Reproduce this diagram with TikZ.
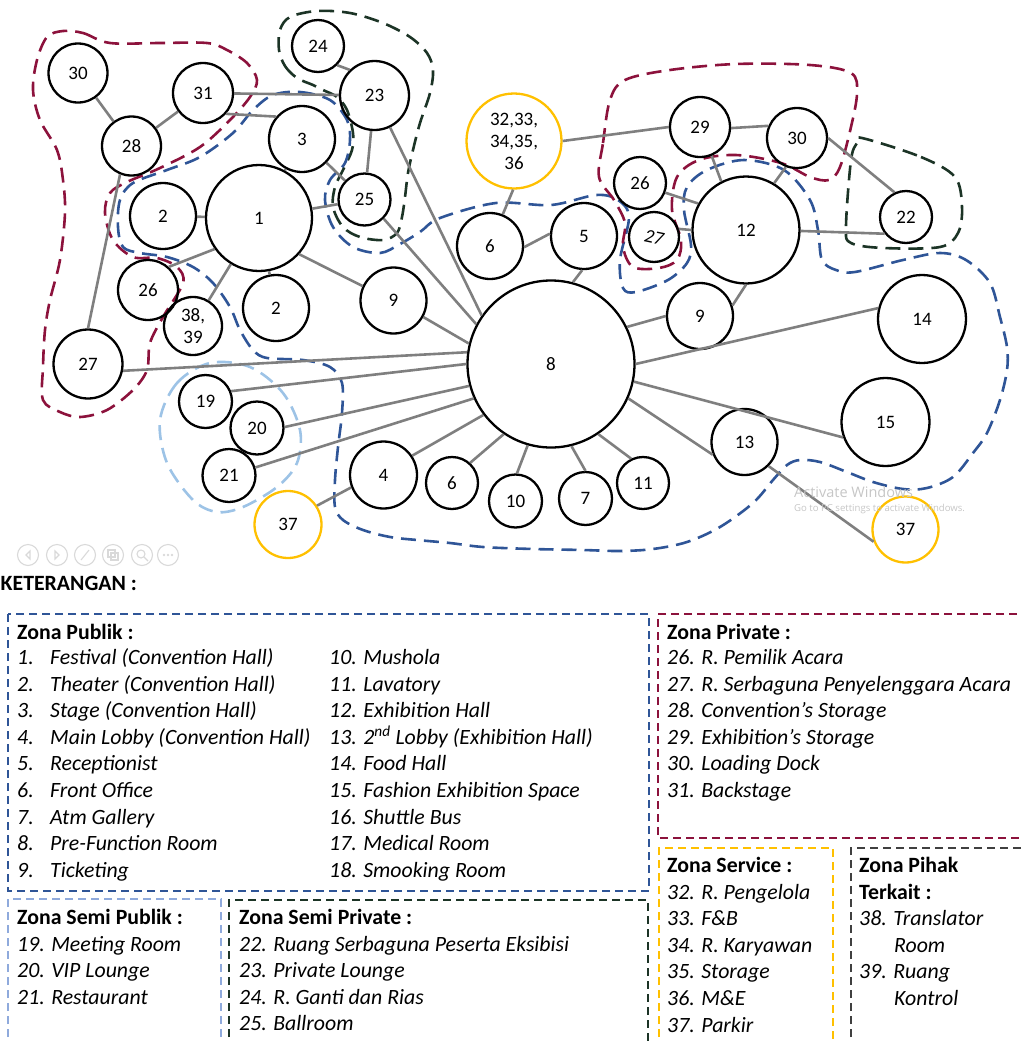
\documentclass[tikz,border=0pt]{standalone}
\usepackage{fontspec}
\setmainfont{Carlito}
\newfontfamily\wmfont{Open Sans}
\definecolor{zblue}{RGB}{47,85,151}
\definecolor{zred}{RGB}{140,18,60}
\definecolor{zgreen}{RGB}{28,52,38}
\definecolor{zlblue}{RGB}{157,195,230}
\definecolor{zlblue2}{RGB}{143,170,220}
\definecolor{zyel}{RGB}{255,192,0}
\definecolor{edgegray}{RGB}{127,127,127}
\definecolor{zgray}{RGB}{64,64,64}
\tikzset{
  rn/.style={circle, draw=black, line width=2.3pt, inner sep=0pt, align=center, font=\fontsize{19}{22}\selectfont},
  yn/.style={rn, draw=zyel},
  edge/.style={draw=edgegray, line width=2.6pt},
  zone/.style={line width=2.6pt, dash pattern=on 15pt off 8pt},
  legbox/.style={line width=2.4pt, dash pattern=on 8pt off 5pt},
  legtxt/.style={anchor=base west, inner sep=0pt, font=\fontsize{21.8}{26}\selectfont\itshape},
  leghead/.style={anchor=base west, inner sep=0pt, font=\fontsize{21.8}{26}\selectfont\bfseries},
  icon/.style={draw=gray!30, line width=1.1pt},
}
\begin{document}
\begin{tikzpicture}[x=1pt,y=-1pt]
\useasboundingbox (0,0) rectangle (1021,1042);

% ---------- zones ----------
\draw[zone, zred] plot[smooth cycle, tension=0.55] coordinates {(63,31) (83,33) (110,43) (160,43) (207,43) (227,50) (247,63) (257,80) (250,97) (230,120) (200,147) (160,168) (127,182) (110,193) (105,213) (113,240) (133,257) (157,258) (177,267) (183,283) (163,317) (150,343) (147,370) (133,390) (107,410) (80,417) (60,412) (43,400) (43,367) (45,330) (50,300) (60,260) (65,213) (63,180) (57,150) (40,120) (33,90) (37,60) (47,37)};
\draw[zone, zgreen] plot[smooth cycle, tension=0.55] coordinates {(279,50) (285,66) (297,78) (313,85) (323,90) (337,97) (347,110) (353,133) (352,150) (343,170) (335,187) (333,207) (343,227) (360,237) (383,240) (397,233) (402,217) (405,197) (408,173) (413,150) (420,123) (430,93) (433,70) (427,53) (410,37) (383,23) (350,13) (317,11) (290,17) (280,30)};
\draw[zone, zblue] plot[smooth cycle, tension=0.55] coordinates {(273,95) (300,92) (330,100) (347,120) (350,140) (345,163) (330,180) (325,200) (333,227) (353,247) (380,253) (400,244) (420,232) (440,218) (496,203) (551,205) (596,195) (618,200) (629,217) (620,260) (623,288) (636,292) (668,280) (687,263) (691,245) (684,210) (687,187) (707,170) (744,160) (784,170) (810,200) (818,230) (822,260) (836,270) (855,272) (903,260) (940,253) (966,260) (990,283) (1000,317) (1007,347) (1007,370) (1000,400) (987,433) (973,453) (953,477) (927,488) (903,489) (873,482) (847,472) (820,462) (800,460) (787,465) (773,480) (753,503) (720,527) (687,542) (653,549) (620,551) (583,550) (533,549) (483,547) (450,543) (417,540) (390,537) (363,530) (343,520) (335,507) (335,480) (338,447) (342,413) (342,383) (330,367) (303,360) (267,358) (253,350) (240,330) (230,307) (213,283) (193,267) (167,257) (140,253) (123,247) (118,227) (120,200) (133,183) (167,170) (200,157) (233,133) (253,110)};
\draw[zone, zred] plot[smooth cycle, tension=0.55] coordinates {(599,177) (603,143) (610,100) (625,80) (670,70) (736,64) (810,65) (851,73) (857,93) (851,127) (840,167) (829,180) (810,177) (781,163) (736,155) (699,160) (677,177) (672,210) (681,240) (677,260) (659,268) (633,267) (623,247) (625,223) (614,200)};
\draw[zone, zgreen] plot[smooth cycle, tension=0.55] coordinates {(862,138) (921,157) (955,177) (962,207) (958,233) (940,247) (884,248) (851,243) (846,227) (851,160) (857,143)};
\draw[zone, zlblue] plot[smooth cycle, tension=0.55] coordinates {(160,420) (177,383) (210,363) (250,367) (283,393) (300,430) (297,463) (277,487) (243,507) (217,512) (193,500) (167,463)};

% ---------- nodes ----------
\node[rn, minimum size=59] (n30a) at (78,73) {30};
\node[rn, minimum size=60] (n31) at (203,93) {31};
\node[rn, minimum size=59] (n28) at (131.5,146) {28};
\node[rn, minimum size=52] (n24) at (318,46) {24};
\node[rn, minimum size=69] (n23) at (374.5,95.5) {23};
\node[rn, minimum size=66] (n3) at (302,139) {3};
\node[rn, minimum size=52] (n25) at (364.5,199.5) {25};
\node[rn, minimum size=66] (n2a) at (163,216) {2};
\node[rn, minimum size=106] (n1) at (259,218) {1};
\node[rn, minimum size=60] (n26a) at (148,290) {26};
\node[rn, minimum size=58] (n38) at (193,326) {38,\\39};
\node[rn, minimum size=66] (n2b) at (276,308) {2};
\node[rn, minimum size=66] (n9a) at (393.5,300.5) {9};
\node[rn, minimum size=69] (n27a) at (88,364) {27};
\node[rn, minimum size=53] (n19) at (205.5,401.5) {19};
\node[rn, minimum size=53] (n20) at (257,428) {20};
\node[rn, minimum size=53] (n21) at (229,475.5) {21};
\node[yn, minimum size=67] (n37a) at (288,524.5) {37};
\node[rn, minimum size=67] (n4) at (383.5,475) {4};
\node[rn, minimum size=52] (n6b) at (452,483) {6};
\node[rn, minimum size=53] (n10) at (515.5,501) {10};
\node[rn, minimum size=53] (n7) at (585.5,498.5) {7};
\node[rn, minimum size=52] (n11) at (643,483) {11};
\node[rn, minimum size=167] (n8) at (551,364) {8};
\node[yn, minimum size=95] (n32) at (514,141) {32,33,\\34,35,\\36};
\node[rn, minimum size=66] (n6a) at (490,246) {6};
\node[rn, minimum size=66] (n5) at (584,236) {5};
\node[rn, minimum size=52] (n26b) at (640,183) {26};
\node[rn, minimum size=50] (n27b) at (654,237) {\rotatebox{-12}{\itshape 27}};
\node[rn, minimum size=107] (n12) at (746,230) {12};
\node[rn, minimum size=60] (n29) at (700,127) {29};
\node[rn, minimum size=60] (n30b) at (797,138) {30};
\node[rn, minimum size=52] (n22) at (906,217) {22};
\node[rn, minimum size=66] (n9b) at (700,316) {9};
\node[rn, minimum size=88] (n14) at (922,319) {14};
\node[rn, minimum size=88] (n15) at (885.5,422) {15};
\node[rn, minimum size=66] (n13) at (744.5,442) {13};
\node[yn, minimum size=66] (n37b) at (905.5,529.5) {37};

% ---------- edges ----------
\draw[edge] (n30a) -- (n28);
\draw[edge] (n28) -- (n31);
\draw[edge] (n28.248) -- (n27a.90);
\draw[edge] (n31) -- (n23);
\draw[edge] (n31.-42) -- (n3.139);
\draw[edge] (n24.-45) -- (n23.134);
\draw[edge] (n23) -- (n25);
\draw[edge] (n23.-64) -- (n8.145);
\draw[edge] (n3) -- (n25);
\draw[edge] (n3) -- (n1);
\draw[edge] (n2a) -- (n1);
\draw[edge] (n1) -- (n25);
\draw[edge] (n1.215) -- (n26a.48);
\draw[edge] (n1) -- (n38);
\draw[edge] (n1) -- (n2b);
\draw[edge] (n1.-42) -- (n9a.155);
\draw[edge] (n9a.-29) -- (n8.166);
\draw[edge] (n25.-45) -- (n8.152);
\draw[edge] (n27a.-11) -- (n8.172);
\draw[edge] (n19.22) -- (n8.180);
\draw[edge] (n20.2) -- (n8.195);
\draw[edge] (n21.17) -- (n8.204);
\draw[edge] (n4.34) -- (n8.217);
\draw[edge] (n4.201) -- (n37a.33);
\draw[edge] (n6b.48) -- (n8.236);
\draw[edge] (n10.87) -- (n8.254);
\draw[edge] (n7.90) -- (n8.284);
\draw[edge] (n11.116) -- (n8.304);
\draw[edge] (n5.267) -- (n8.75);
\draw[edge] (n6a.-2) -- (n5.176);
\draw[edge] (n6a.68) -- (n32.-91);
\draw[edge] (n32.0) -- (n29.180);
\draw[edge] (n29.-2) -- (n30b.157);
\draw[edge] (n29.-68) -- (n12.117);
\draw[edge] (n30b.249) -- (n12.59);
\draw[edge] (n30b.0) -- (n22.115);
\draw[edge] (n26b.-21) -- (n12.151);
\draw[edge] (n27b.18) -- (n12.180);
\draw[edge] (n12.-1) -- (n22.218);
\draw[edge] (n9b.18) -- (n12.270);
\draw[edge] (n9b.180) -- (n8.26);
\draw[edge] (n8.0) -- (n14.166);
\draw[edge] (n8.-12) -- (n15.200);
\draw[edge] (n8.-24) -- (n13.202);
\draw[edge] (n13.-45) -- (n37b.201);

% ---------- watermark & slideshow controls ----------
\node[anchor=west, inner sep=0pt, text=gray!45, font=\wmfont\fontsize{14.5}{16}\selectfont] (wm1) at (794,492) {Activate Windows};
\node[anchor=west, inner sep=0pt, text=gray!45, font=\wmfont\fontsize{9.6}{11}\selectfont] (wm2) at (794,509) {Go to PC settings to activate Windows.};
\foreach \cx [count=\k] in {28,57,85,113,142,168} {
  \draw[icon] (\cx,555) circle (10.5);
}
\draw[icon] (30,551) -- (26,555) -- (30,559) -- cycle;
\draw[icon] (55,551) -- (59,555) -- (55,559) -- cycle;
\draw[icon] (81,560) -- (89,550);
\draw[icon] (108,550) rectangle (115,557);
\draw[icon] (111,553) rectangle (118,560);
\draw[icon] (141,554) circle (4);
\draw[icon] (144,557) -- (148,561);
\foreach \dx in {-4,0,4} { \fill[gray!30] (168+\dx,555) circle (1.3); }

% ---------- legend ----------
\node[leghead] (ket) at (0.5,590.5) {KETERANGAN :};

\draw[legbox, zblue] (8,614) rectangle (649,891);
\draw[legbox, zred] (1030,614) -- (658,614) -- (658,838) -- (1030,838);
\draw[legbox, zyel] (659,1050) -- (659,848) -- (833,848) -- (833,1050);
\draw[legbox, zgray] (851,1050) -- (851,848) -- (1030,848);
\draw[legbox, zlblue2] (8,1050) -- (8,899) -- (221,899) -- (221,1050);
\draw[legbox, zgreen] (229,1050) -- (229,900) -- (648,900) -- (648,1050);

% Zona Publik
\node[leghead] (hpub) at (17,639.5) {Zona Publik :};
\foreach \n/\t [count=\k] in {1./{Festival (Convention Hall)}, 2./{Theater (Convention Hall)}, 3./{Stage (Convention Hall)}, 4./{Main Lobby (Convention Hall)}, 5./{Receptionist}, 6./{Front Office}, 7./{Atm Gallery}, 8./{Pre-Function Room}, 9./{Ticketing}} {
  \node[legtxt] (pubn\k) at (17,{664.5+26.6*(\k-1)}) {\n};
  \node[legtxt] (pubt\k) at (50,{664.5+26.6*(\k-1)}) {\t};
}
\foreach \t [count=\k] in {{10. Mushola}, {11. Lavatory}, {12. Exhibition Hall}, {13. 2\textsuperscript{nd} Lobby (Exhibition Hall)}, {14. Food Hall}, {15. Fashion Exhibition Space}, {16. Shuttle Bus}, {17. Medical Room}, {18. Smooking Room}} {
  \node[legtxt] (pubc\k) at (329,{664.5+26.6*(\k-1)}) {\t};
}

% Zona Private
\node[leghead] (hpri) at (667,639.5) {Zona Private :};
\foreach \t [count=\k] in {{26. R. Pemilik Acara}, {27. R. Serbaguna Penyelenggara Acara}, {28. Convention’s Storage}, {29. Exhibition’s Storage}, {30. Loading Dock}, {31. Backstage}} {
  \node[legtxt] (pri\k) at (667,{664.5+26.6*(\k-1)}) {\t};
}

% Zona Service
\node[leghead] (hser) at (667,872.5) {Zona Service :};
\foreach \t [count=\k] in {{32. R. Pengelola}, {33. F\&B}, {34. R. Karyawan}, {35. Storage}, {36. M\&E}, {37. Parkir}} {
  \node[legtxt] (ser\k) at (667,{899.1+26.6*(\k-1)}) {\t};
}

% Zona Pihak Terkait
\node[leghead] (hpih1) at (859,872.5) {Zona Pihak};
\node[leghead] (hpih2) at (859,899.1) {Terkait :};
\node[legtxt] (pih1) at (859,925.7) {38. Translator};
\node[legtxt] (pih2) at (894,952.3) {Room};
\node[legtxt] (pih3) at (859,978.9) {39. Ruang};
\node[legtxt] (pih4) at (894,1005.5) {Kontrol};

% Zona Semi Publik
\node[leghead] (hsp) at (17,924.5) {Zona Semi Publik :};
\foreach \t [count=\k] in {{19. Meeting Room}, {20. VIP Lounge}, {21. Restaurant}} {
  \node[legtxt] (sp\k) at (17,{951.1+26.6*(\k-1)}) {\t};
}

% Zona Semi Private
\node[leghead] (hspr) at (239,924.5) {Zona Semi Private :};
\foreach \t [count=\k] in {{22. Ruang Serbaguna Peserta Eksibisi}, {23. Private Lounge}, {24. R. Ganti dan Rias}, {25. Ballroom}} {
  \node[legtxt] (spr\k) at (239,{951.1+26.6*(\k-1)}) {\t};
}
\end{tikzpicture}
\end{document}
